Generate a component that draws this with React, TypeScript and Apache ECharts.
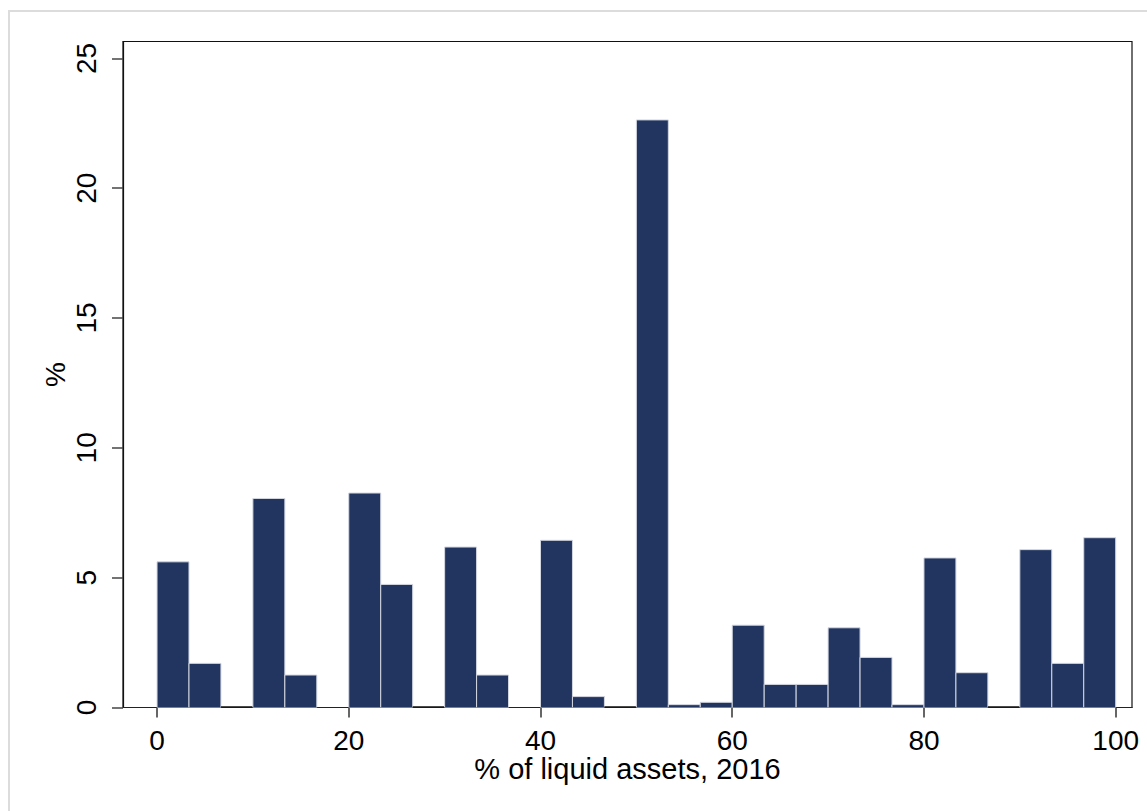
import React, { useEffect, useRef } from "react";
import * as echarts from "echarts";

// Histogram of "% of liquid assets, 2016": 30 bins of equal width from 0 to 100
const binWidth = 100 / 30;
const binValues = [
  5.61, 1.7, 0.05, 8.05, 1.25, 0, 8.26, 4.74, 0.05, 6.18,
  1.25, 0, 6.44, 0.42, 0.05, 22.63, 0.11, 0.2, 3.17, 0.89,
  0.89, 3.07, 1.93, 0.11, 5.76, 1.34, 0.05, 6.08, 1.7, 6.54,
];
const xTickValues = [0, 20, 40, 60, 80, 100];
const yTickValues = [0, 5, 10, 15, 20, 25];
const xTitle = "% of liquid assets, 2016";
const yTitle = "%";

const FONT = "'Liberation Sans', Arial, sans-serif";

export default function App() {
  const ref = useRef<HTMLDivElement>(null);
  useEffect(() => {
    if (!ref.current) return;
    const chart = echarts.init(ref.current, undefined, { renderer: "svg" });
    const data = binValues.map((v, i) => [i * binWidth, (i + 1) * binWidth, v]);
    chart.setOption({
      animation: false,
      backgroundColor: "#ffffff",
      graphic: [
        {
          type: "rect",
          shape: { x: 9, y: 11, width: 1300, height: 1000 },
          style: { fill: "none", stroke: "#dcdcdc", lineWidth: 2 },
          silent: true,
        },
      ],
      grid: {
        left: 123,
        top: 41.5,
        right: 15,
        bottom: 103.5,
        show: true,
        borderColor: "#111",
        borderWidth: 1.2,
        backgroundColor: "transparent",
      },
      xAxis: {
        type: "value",
        min: -3.55,
        max: 101.7,
        name: xTitle,
        nameLocation: "middle",
        nameGap: 47,
        nameMoveOverlap: false,
        nameTextStyle: { fontFamily: FONT, fontSize: 29, color: "#000" },
        splitLine: { show: false },
        axisLine: { show: true, onZero: false, lineStyle: { color: "#222", width: 1.2 } },
        axisTick: {
          show: true,
          length: 10,
          customValues: xTickValues,
          lineStyle: { color: "#333", width: 1.5 },
        },
        axisLabel: {
          customValues: xTickValues,
          margin: 19,
          fontFamily: FONT,
          fontSize: 28,
          color: "#000",
        },
      },
      yAxis: {
        type: "value",
        min: 0,
        max: 25.65,
        name: yTitle,
        nameLocation: "middle",
        nameRotate: 90,
        nameGap: 54,
        nameMoveOverlap: false,
        nameTextStyle: { fontFamily: FONT, fontSize: 28, color: "#000" },
        splitLine: { show: false },
        axisLine: { show: true, onZero: false, lineStyle: { color: "#111", width: 1.2 } },
        axisTick: {
          show: true,
          length: 11,
          customValues: yTickValues,
          lineStyle: { color: "#444", width: 1.5 },
        },
        axisLabel: {
          customValues: yTickValues,
          rotate: 90,
          margin: 23,
          fontFamily: FONT,
          fontSize: 28,
          color: "#000",
        },
      },
      series: [
        {
          type: "custom",
          clip: true,
          encode: { x: [0, 1], y: 2 },
          data,
          renderItem: (params: any, api: any) => {
            const x0 = api.value(0);
            const x1 = api.value(1);
            const v = api.value(2);
            if (!v) return null;
            const p0 = api.coord([x0, 0]);
            const p1 = api.coord([x1, v]);
            const w = p1[0] - p0[0];
            if (v < 0.08) {
              return {
                type: "rect",
                shape: { x: p0[0], y: p0[1] - 1.2, width: w, height: 2.2 },
                style: { fill: "#111" },
              };
            }
            return {
              type: "rect",
              shape: { x: p0[0], y: p1[1], width: w, height: p0[1] - p1[1] },
              style: { fill: "#223560", stroke: "#d3d7e0", lineWidth: 1 },
            };
          },
        },
      ],
    });
    return () => chart.dispose();
  }, []);
  return (
    <div
      ref={ref}
      style={{ position: "absolute", left: 0, top: 0, width: 1147, height: 811 }}
    />
  );
}
